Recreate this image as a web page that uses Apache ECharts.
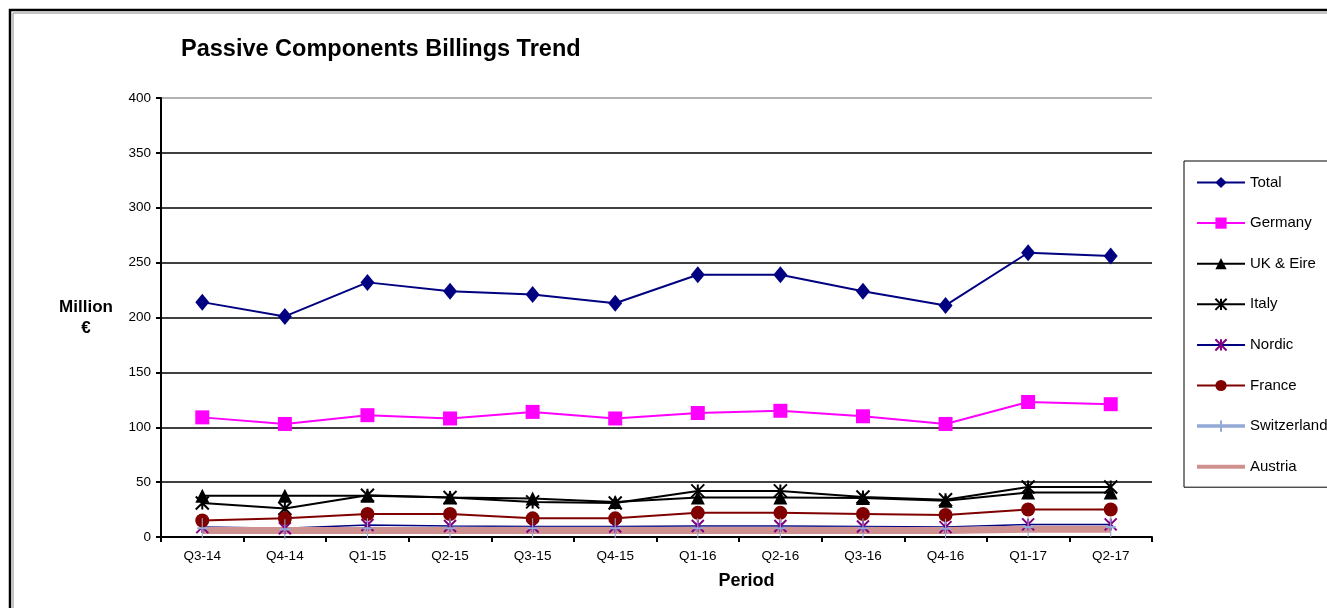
<!DOCTYPE html>
<html>
<head>
<meta charset="utf-8">
<script src="https://cdn.jsdelivr.net/npm/echarts@6/dist/echarts.min.js"></script>
<style>
  html, body { margin: 0; padding: 0; background: #fff; }
  #chart { width: 1327px; height: 608px; }
</style>
</head>
<body>
<div id="chart"></div>
<script>
// Passive Components Billings Trend (million €)
const periods = ["Q3-14", "Q4-14", "Q1-15", "Q2-15", "Q3-15", "Q4-15", "Q1-16", "Q2-16", "Q3-16", "Q4-16", "Q1-17", "Q2-17"];
const total = [214, 201, 232, 224, 221, 213, 239, 239, 224, 211, 259, 256];
const germany = [109, 103, 111, 108, 114, 108, 113, 115, 110, 103, 123, 121];
const ukEire = [37.5, 37.5, 37.5, 36, 35, 32, 36, 36, 35.5, 33, 40.5, 40.5];
const italy = [31, 26, 38, 36, 32, 31, 42, 42, 36.5, 34, 45.5, 45.5];
const nordic = [9, 8, 11, 10, 9.5, 9.5, 10, 10, 9.5, 9, 11.5, 11.5];
const france = [15, 17, 21, 21, 17, 17, 22, 22, 21, 20, 25, 25];
const switzerland = [8, 7, 8, 8, 8, 8, 8, 8, 8, 7.5, 9, 9];
const austria = [6, 6, 6, 6, 6, 6, 6, 6, 6, 6, 7, 7];

const FONT = "'Liberation Sans', Arial, sans-serif";
const starPath = "path://M0,0L10,10M10,0L0,10M5,0L5,10";
const plusPath = "path://M5,0L5,20M1,10L9,10";

const chart = echarts.init(document.getElementById("chart"), null, { renderer: "canvas" });

function lineSeries(name, data, color, width, symbol, size, markerColor) {
    return {
        name: name,
        type: "line",
        data: data,
        symbol: symbol,
        symbolSize: size,
        showSymbol: symbol !== "none",
        lineStyle: { color: color, width: width },
        itemStyle: { color: markerColor || color },
        emphasis: { disabled: true },
    };
}

const stroked = (s, color, w) => {
    s.itemStyle = { color: color, borderColor: color, borderWidth: w };
    return s;
};

const austriaSeries = lineSeries("Austria", austria, "#CF9090", 7, "none", 0);
austriaSeries.z = 3;

const option = {
    animation: false,
    textStyle: { fontFamily: FONT },
    title: {
        text: "Passive Components Billings Trend",
        left: 181,
        top: 38,
        padding: 0,
        textStyle: { fontFamily: FONT, fontSize: 23.5, fontWeight: "bold", color: "#000" },
    },
    graphic: [
        {
            type: "rect",
            silent: true,
            shape: { x: 10, y: 10, width: 1400, height: 700 },
            style: { fill: "none", stroke: "#000", lineWidth: 2.5 },
        },
        {
            type: "rect",
            silent: true,
            shape: { x: 13, y: 13, width: 1400, height: 700 },
            style: { fill: "none", stroke: "#888", lineWidth: 1 },
        },
    ],
    legend: {
        orient: "vertical",
        left: 1184,
        top: 161,
        padding: [14, 30, 13, 11],
        itemWidth: 48,
        itemHeight: 14,
        itemGap: 25.6,
        borderColor: "#000",
        borderWidth: 1,
        textStyle: { fontFamily: FONT, fontSize: 15, color: "#000" },
        data: [
            "Total", "Germany", "UK & Eire", "Italy", "Nordic", "France",
            { name: "Switzerland", lineStyle: { width: 3.5 } },
            { name: "Austria", lineStyle: { width: 4 }, itemStyle: { opacity: 0 } },
        ],
    },
    grid: {
        left: 161,
        right: 175,
        top: 98,
        bottom: 71,
        containLabel: false,
    },
    xAxis: {
        type: "category",
        data: periods,
        boundaryGap: true,
        name: "Period",
        nameLocation: "middle",
        nameGap: 35,
        nameTextStyle: { fontFamily: FONT, fontSize: 18, fontWeight: "bold", color: "#000", padding: [0, 0, 0, 180] },
        axisLine: { lineStyle: { color: "#000", width: 2 } },
        axisTick: { show: true, alignWithLabel: false, length: 5, lineStyle: { color: "#000", width: 2 } },
        axisLabel: { color: "#000", fontSize: 13.5, margin: 12 },
    },
    yAxis: {
        type: "value",
        min: 0,
        max: 400,
        interval: 50,
        name: "Million\n€",
        nameLocation: "middle",
        nameRotate: 0,
        nameGap: 75,
        nameTextStyle: {
            fontFamily: FONT, fontSize: 17, fontWeight: "bold", color: "#000",
            align: "center", lineHeight: 21, padding: [0, 0, 26, 0],
        },
        axisLine: { show: true, lineStyle: { color: "#000", width: 2 } },
        axisTick: { show: true, length: 5, lineStyle: { color: "#000", width: 2 } },
        axisLabel: { color: "#000", fontSize: 13.5, margin: 10 },
        splitLine: {
            show: true,
            lineStyle: {
                color: ["#000", "#000", "#000", "#000", "#000", "#000", "#000", "#000", "#999"],
                width: 1.5,
            },
        },
    },
    series: [
        lineSeries("Total", total, "#000080", 2, "diamond", [14, 17]),
        lineSeries("Germany", germany, "#FF00FF", 2, "rect", 14),
        lineSeries("UK & Eire", ukEire, "#000", 2, "triangle", 14),
        stroked(lineSeries("Italy", italy, "#000", 2, starPath, 13), "#000", 2),
        stroked(lineSeries("Nordic", nordic, "#000080", 1.5, starPath, 12), "#800080", 2),
        lineSeries("France", france, "#800000", 2, "circle", 14),
        stroked(lineSeries("Switzerland", switzerland, "#93A9D6", 3, plusPath, [10, 20]), "#93A9D6", 1.5),
        austriaSeries,
    ],
};

chart.setOption(option);
</script>
</body>
</html>
